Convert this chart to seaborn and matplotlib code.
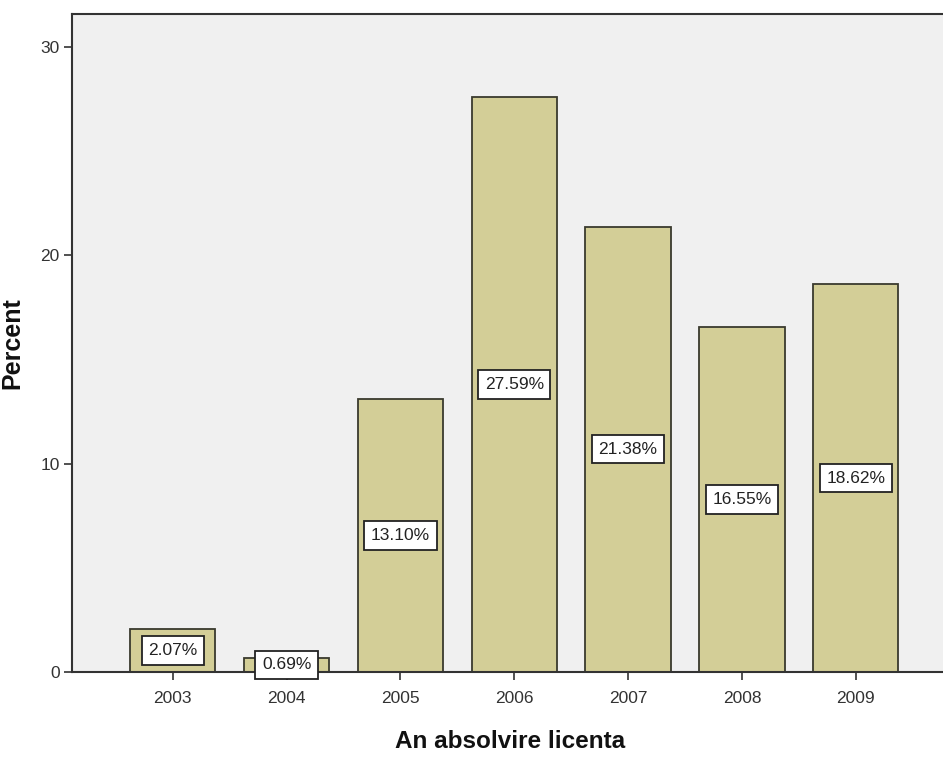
import pandas as pd
import matplotlib
matplotlib.use('Agg')
import matplotlib.pyplot as plt
import seaborn as sns

# Data
years = ['2003', '2004', '2005', '2006', '2007', '2008', '2009']
percents = [2.07, 0.69, 13.10, 27.59, 21.38, 16.55, 18.62]
y_ticks = [0, 10, 20, 30]

df = pd.DataFrame({'An': years, 'Percent': percents})

sns.set_style('white')
plt.rcParams['font.family'] = ['Liberation Sans', 'DejaVu Sans']

fig = plt.figure(figsize=(9.43, 7.57), dpi=100)
ax = fig.add_axes([0.0764, 0.1123, 0.93, 0.8692])
ax.set_facecolor('#f0f0f0')

sns.barplot(data=df, x='An', y='Percent', color='#d3ce97', width=0.75,
            edgecolor='#3a3a2e', linewidth=1.3, saturation=1, ax=ax)

# value labels in white boxes, centred on each bar
for i, p in enumerate(percents):
    ax.text(i, p / 2, f'{p:.2f}%', ha='center', va='center', fontsize=12.5,
            color='#222222',
            bbox=dict(boxstyle='square,pad=0.38', facecolor='white',
                      edgecolor='#222222', linewidth=1.3))

ax.set_xlim(-0.885, 6.82)
ax.set_ylim(0, 31.58)
ax.set_yticks(y_ticks)
ax.tick_params(axis='both', which='both', direction='out', length=6,
               width=1.2, color='#333333', labelsize=12.5, labelcolor='#333333',
               left=True, bottom=True)
ax.tick_params(axis='x', pad=8)
ax.tick_params(axis='y', pad=3)

for side in ['left', 'bottom', 'top']:
    ax.spines[side].set_color('#333333')
    ax.spines[side].set_linewidth(1.5)
ax.spines['right'].set_visible(False)

ax.set_xlabel('An absolvire licenta', fontsize=17.5, fontweight='bold',
              labelpad=17, color='#111111')
ax.set_ylabel('Percent', fontsize=18, fontweight='bold', color='#111111')
ax.yaxis.set_label_coords(-0.054, 0.5)

fig.savefig('out.png', dpi=100, facecolor='white')
